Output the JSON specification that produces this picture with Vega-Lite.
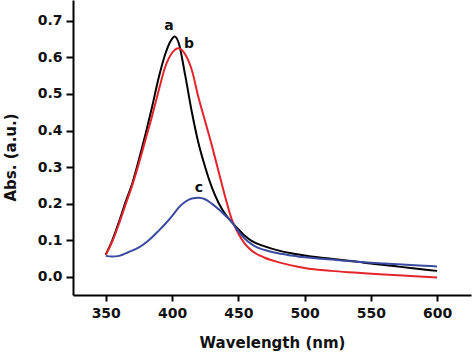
{
  "$schema": "https://vega.github.io/schema/vega-lite/v6.json",
  "width": 398,
  "height": 295,
  "autosize": {"type": "none"},
  "padding": {"left": 73, "top": 0, "right": 3, "bottom": 60},
  "background": "white",
  "config": {
    "view": {"stroke": null},
    "font": "DejaVu Sans",
    "axis": {
      "grid": false,
      "domainColor": "black",
      "domainWidth": 2,
      "tickColor": "black",
      "tickWidth": 2,
      "labelFont": "DejaVu Sans",
      "labelFontWeight": "bold",
      "labelFontSize": 14,
      "labelColor": "#111",
      "titleFont": "DejaVu Sans",
      "titleFontWeight": "bold",
      "titleFontSize": 15,
      "titleColor": "#111"
    }
  },
  "datasets": {
    "spectra": [
      {"wl": 350, "abs": 0.060, "s": "a"},
      {"wl": 355, "abs": 0.100, "s": "a"},
      {"wl": 360, "abs": 0.150, "s": "a"},
      {"wl": 365, "abs": 0.205, "s": "a"},
      {"wl": 370, "abs": 0.255, "s": "a"},
      {"wl": 375, "abs": 0.320, "s": "a"},
      {"wl": 380, "abs": 0.390, "s": "a"},
      {"wl": 385, "abs": 0.465, "s": "a"},
      {"wl": 390, "abs": 0.545, "s": "a"},
      {"wl": 395, "abs": 0.610, "s": "a"},
      {"wl": 399, "abs": 0.645, "s": "a"},
      {"wl": 402, "abs": 0.657, "s": "a"},
      {"wl": 405, "abs": 0.640, "s": "a"},
      {"wl": 410, "abs": 0.550, "s": "a"},
      {"wl": 415, "abs": 0.450, "s": "a"},
      {"wl": 420, "abs": 0.365, "s": "a"},
      {"wl": 425, "abs": 0.300, "s": "a"},
      {"wl": 430, "abs": 0.245, "s": "a"},
      {"wl": 435, "abs": 0.203, "s": "a"},
      {"wl": 440, "abs": 0.172, "s": "a"},
      {"wl": 445, "abs": 0.150, "s": "a"},
      {"wl": 450, "abs": 0.130, "s": "a"},
      {"wl": 455, "abs": 0.112, "s": "a"},
      {"wl": 460, "abs": 0.098, "s": "a"},
      {"wl": 470, "abs": 0.083, "s": "a"},
      {"wl": 480, "abs": 0.072, "s": "a"},
      {"wl": 490, "abs": 0.064, "s": "a"},
      {"wl": 500, "abs": 0.058, "s": "a"},
      {"wl": 510, "abs": 0.053, "s": "a"},
      {"wl": 520, "abs": 0.049, "s": "a"},
      {"wl": 530, "abs": 0.045, "s": "a"},
      {"wl": 540, "abs": 0.041, "s": "a"},
      {"wl": 550, "abs": 0.036, "s": "a"},
      {"wl": 560, "abs": 0.032, "s": "a"},
      {"wl": 570, "abs": 0.028, "s": "a"},
      {"wl": 580, "abs": 0.024, "s": "a"},
      {"wl": 590, "abs": 0.020, "s": "a"},
      {"wl": 600, "abs": 0.016, "s": "a"},

      {"wl": 350, "abs": 0.060, "s": "b"},
      {"wl": 355, "abs": 0.097, "s": "b"},
      {"wl": 360, "abs": 0.145, "s": "b"},
      {"wl": 365, "abs": 0.198, "s": "b"},
      {"wl": 370, "abs": 0.250, "s": "b"},
      {"wl": 375, "abs": 0.310, "s": "b"},
      {"wl": 380, "abs": 0.375, "s": "b"},
      {"wl": 385, "abs": 0.440, "s": "b"},
      {"wl": 390, "abs": 0.510, "s": "b"},
      {"wl": 395, "abs": 0.575, "s": "b"},
      {"wl": 400, "abs": 0.612, "s": "b"},
      {"wl": 405, "abs": 0.625, "s": "b"},
      {"wl": 410, "abs": 0.608, "s": "b"},
      {"wl": 415, "abs": 0.565, "s": "b"},
      {"wl": 420, "abs": 0.490, "s": "b"},
      {"wl": 425, "abs": 0.425, "s": "b"},
      {"wl": 430, "abs": 0.360, "s": "b"},
      {"wl": 435, "abs": 0.290, "s": "b"},
      {"wl": 440, "abs": 0.220, "s": "b"},
      {"wl": 445, "abs": 0.158, "s": "b"},
      {"wl": 450, "abs": 0.118, "s": "b"},
      {"wl": 455, "abs": 0.090, "s": "b"},
      {"wl": 460, "abs": 0.072, "s": "b"},
      {"wl": 470, "abs": 0.052, "s": "b"},
      {"wl": 480, "abs": 0.040, "s": "b"},
      {"wl": 490, "abs": 0.031, "s": "b"},
      {"wl": 500, "abs": 0.024, "s": "b"},
      {"wl": 520, "abs": 0.016, "s": "b"},
      {"wl": 540, "abs": 0.011, "s": "b"},
      {"wl": 560, "abs": 0.006, "s": "b"},
      {"wl": 580, "abs": 0.002, "s": "b"},
      {"wl": 600, "abs": -0.002, "s": "b"},

      {"wl": 350, "abs": 0.057, "s": "c"},
      {"wl": 355, "abs": 0.055, "s": "c"},
      {"wl": 360, "abs": 0.057, "s": "c"},
      {"wl": 367, "abs": 0.067, "s": "c"},
      {"wl": 375, "abs": 0.080, "s": "c"},
      {"wl": 385, "abs": 0.108, "s": "c"},
      {"wl": 390, "abs": 0.126, "s": "c"},
      {"wl": 395, "abs": 0.145, "s": "c"},
      {"wl": 400, "abs": 0.166, "s": "c"},
      {"wl": 405, "abs": 0.189, "s": "c"},
      {"wl": 410, "abs": 0.205, "s": "c"},
      {"wl": 415, "abs": 0.214, "s": "c"},
      {"wl": 420, "abs": 0.216, "s": "c"},
      {"wl": 425, "abs": 0.212, "s": "c"},
      {"wl": 430, "abs": 0.200, "s": "c"},
      {"wl": 435, "abs": 0.185, "s": "c"},
      {"wl": 440, "abs": 0.168, "s": "c"},
      {"wl": 445, "abs": 0.150, "s": "c"},
      {"wl": 450, "abs": 0.125, "s": "c"},
      {"wl": 455, "abs": 0.104, "s": "c"},
      {"wl": 460, "abs": 0.089, "s": "c"},
      {"wl": 465, "abs": 0.079, "s": "c"},
      {"wl": 470, "abs": 0.073, "s": "c"},
      {"wl": 480, "abs": 0.064, "s": "c"},
      {"wl": 490, "abs": 0.058, "s": "c"},
      {"wl": 500, "abs": 0.053, "s": "c"},
      {"wl": 510, "abs": 0.050, "s": "c"},
      {"wl": 520, "abs": 0.047, "s": "c"},
      {"wl": 530, "abs": 0.044, "s": "c"},
      {"wl": 540, "abs": 0.041, "s": "c"},
      {"wl": 550, "abs": 0.038, "s": "c"},
      {"wl": 560, "abs": 0.036, "s": "c"},
      {"wl": 570, "abs": 0.034, "s": "c"},
      {"wl": 580, "abs": 0.032, "s": "c"},
      {"wl": 590, "abs": 0.030, "s": "c"},
      {"wl": 600, "abs": 0.028, "s": "c"}
    ],
    "labels": [
      {"wl": 397.7, "abs": 0.686, "t": "a"},
      {"wl": 412.8, "abs": 0.637, "t": "b"},
      {"wl": 420.3, "abs": 0.243, "t": "c"}
    ]
  },
  "layer": [
    {
      "data": {"name": "spectra"},
      "mark": {"type": "line", "strokeWidth": 2, "interpolate": "monotone"},
      "encoding": {
        "x": {
          "field": "wl", "type": "quantitative",
          "scale": {"domain": [325.3, 625.6], "nice": false, "zero": false},
          "axis": {"title": "Wavelength (nm)", "values": [350, 400, 450, 500, 550, 600], "tickSize": 6, "labelPadding": 5, "titlePadding": 15}
        },
        "y": {
          "field": "abs", "type": "quantitative",
          "scale": {"domain": [-0.05, 0.757], "nice": false, "zero": false},
          "axis": {"title": "Abs. (a.u.)", "values": [0, 0.1, 0.2, 0.3, 0.4, 0.5, 0.6, 0.7], "format": ".1f", "tickSize": 7, "labelPadding": 4, "titlePadding": 19, "titleY": 157}
        },
        "color": {
          "field": "s", "type": "nominal",
          "scale": {"domain": ["a", "b", "c"], "range": ["#000000", "#e3242b", "#3a4aa0"]},
          "legend": null
        }
      }
    },
    {
      "data": {"name": "labels"},
      "mark": {"type": "text", "fontWeight": "bold", "fontSize": 14, "font": "DejaVu Sans", "color": "#111"},
      "encoding": {
        "x": {"field": "wl", "type": "quantitative"},
        "y": {"field": "abs", "type": "quantitative"},
        "text": {"field": "t"}
      }
    }
  ]
}
